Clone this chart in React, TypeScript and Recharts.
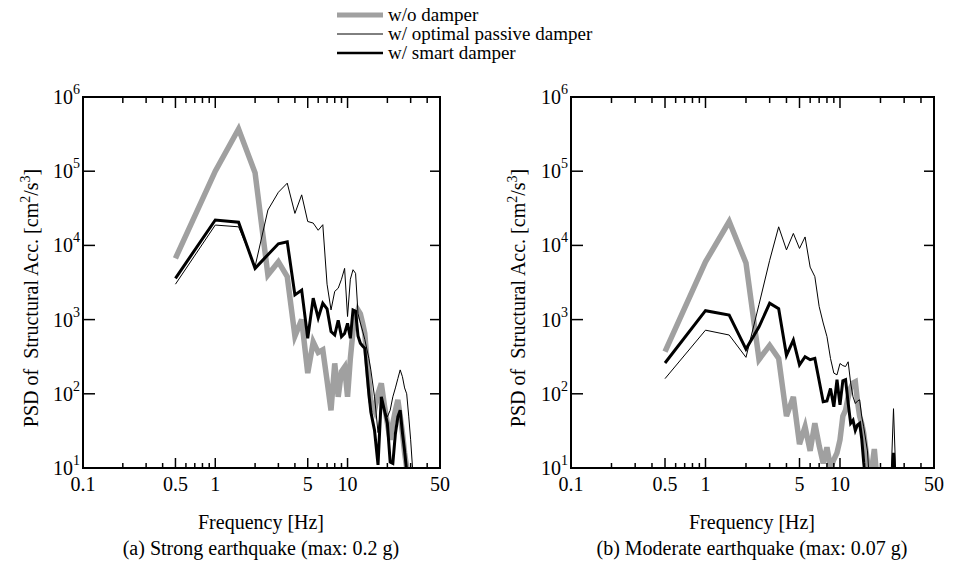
import React from 'react'
import { LineChart, Line, XAxis, YAxis, ReferenceArea } from 'recharts'

// frequency grid [Hz]
const freq = [
  0.5, 1, 1.5, 2, 2.5, 3, 3.5, 4, 4.5, 5, 5.5, 6, 6.5, 7, 7.5, 8, 8.5, 9, 9.5, 10,
  10.5, 11, 11.5, 12, 12.5, 13, 13.5, 14, 14.5, 15, 16, 17, 18, 19, 20, 21, 22, 23, 24, 25,
  26, 27, 28, 29, 30, 31, 32,
]

// (a) strong earthquake
const strongWo = [
  6700, 100000, 370000, 95000, 4000, 6000, 3800, 600, 1000, 190,
  500, 360, 390, 150, 60, 257, 91, 200, 230, 91,
  300, 700, 1000, 1350, 1200, 900, 650, 300, 150, 80,
  60, 100, 138, 70, 40, 24, 40, 60, 83, 50,
  30, 16, 10, 6, 5, null, null,
]
const strongPassive = [
  3000, 18800, 17800, 5200, 30000, 52000, 69000, 27000, 48000, 21000,
  20000, 16000, 19000, 3000, 1350, 2400, 2650, 3500, 4900, 1100,
  3500, 4700, 4200, 1200, 900, 700, 540, 400, 300, 210,
  91, 30, 74, 60, 49, 60, 91, 120, 160, 210,
  170, 120, 100, 50, 24, 10, 5,
]
const strongSmart = [
  3600, 22000, 20500, 4900, 7500, 10500, 11200, 2150, 2500, 560,
  1950, 1050, 1660, 1400, 690, 620, 980, 590, 650, 890,
  560, 1350, 1300, 600, 480, 440, 410, 200, 100, 57,
  32, 11, 91, 60, 40, 12, 11.5, 29, 49, 60,
  30, 17, 9, 5, 3, null, null,
]

// (b) moderate earthquake
const moderateWo = [
  370, 6000, 21000, 5800, 290, 450, 300, 50, 91, 21,
  36, 17, 40, 20, 11.5, 19, 10, 13, 16, 24,
  50, 60, 90, 120, 140, 145, 78, 50, 40, 30,
  12, 8, 18, 6, 3, null, null, null, null, null,
  null, null, null, null, null, null, null,
]
const moderatePassive = [
  160, 720, 620, 310, 1600, 6300, 17800, 8700, 14500, 9100,
  13000, 5100, 3800, 1500, 900, 590, 300, 190, 180, 256,
  240, 233, 270, 140, 91, 74, 80, 83, 50, 36,
  17, 3, 2, 2, 2, 2, 2, 2, 8, 63,
  8, 2, null, null, null, null, null,
]
const moderateSmart = [
  260, 1320, 1150, 400, 800, 1660, 1400, 330, 530, 245,
  316, 288, 300, 150, 78, 80, 118, 67, 155, 71,
  150, 155, 75, 40, 44, 32, 38, 40, 25, 12,
  4, 3, 3, 3, 3, 3, 3, 3, 3, 16,
  3, null, null, null, null, null, null,
]

const xTicks = [0.1, 0.2, 0.3, 0.4, 0.5, 0.6, 0.7, 0.8, 0.9, 1, 2, 3, 4, 5, 6, 7, 8, 9, 10, 20, 30, 40, 50]
const xLabels = [0.1, 0.5, 1, 5, 10, 50]
const xMajor = [0.5, 1, 5, 10]
const yTicks = [10, 100, 1000, 10000, 100000, 1000000]

const FONT = '"Liberation Serif", "DejaVu Serif", serif'

function buildRows(wo: (number | null)[], passive: (number | null)[], smart: (number | null)[]) {
  return freq.map((f, i) => ({ f, wo: wo[i], passive: passive[i], smart: smart[i] }))
}

const strongData = buildRows(strongWo, strongPassive, strongSmart)
const moderateData = buildRows(moderateWo, moderatePassive, moderateSmart)

// plot box geometry inside each LineChart
const PLOT_TOP = 97
const PLOT_BOTTOM = 468
const PLOT_LEFT = 83

// x ticks point inward on bottom and top edges
function BottomTick(props: any) {
  const { x, payload } = props
  const v = payload.value
  const edge = v === 0.1 || v === 50
  const len = xMajor.includes(v) ? 10 : 5
  return (
    <g>
      {!edge && <line x1={x} x2={x} y1={PLOT_BOTTOM} y2={PLOT_BOTTOM - len} stroke="#000" strokeWidth={1.5} />}
      {!edge && <line x1={x} x2={x} y1={PLOT_TOP} y2={PLOT_TOP + len + 1} stroke="#000" strokeWidth={1.5} />}
      {xLabels.includes(v) && (
        <text x={x} y={PLOT_BOTTOM + 23} textAnchor="middle" fontSize={20} fontFamily={FONT} fill="#000">
          {v}
        </text>
      )}
    </g>
  )
}

// y ticks on left and right edges, labels as 10^n
function LeftTick(props: any, plotRight: number) {
  const { y, payload } = props
  const exp = Math.round(Math.log10(payload.value))
  const edge = exp === 1 || exp === 6
  return (
    <g>
      {!edge && <line x1={PLOT_LEFT} x2={PLOT_LEFT + 12} y1={y} y2={y} stroke="#000" strokeWidth={1.5} />}
      {!edge && <line x1={plotRight} x2={plotRight - 10} y1={y} y2={y} stroke="#000" strokeWidth={1.5} />}
      <text x={PLOT_LEFT - 3} y={y + 7} textAnchor="end" fontSize={20} fontFamily={FONT} fill="#000">
        10<tspan dy={-10} fontSize={14}>{exp}</tspan>
      </text>
    </g>
  )
}

function PsdPanel({ data, left, marginRight }: { data: any[]; left: number; marginRight: number }) {
  const plotRight = 460 - marginRight
  return (
    <div style={{ position: 'absolute', left, top: 0 }}>
      <LineChart width={460} height={530} data={data} margin={{ top: PLOT_TOP, right: marginRight, bottom: 32, left: 23 }}>
        <XAxis
          dataKey="f" type="number" scale="log" domain={[0.1, 50]} allowDataOverflow
          ticks={xTicks} interval={0} tick={BottomTick} tickLine={false} tickSize={0} tickMargin={0}
          axisLine={{ stroke: '#000', strokeWidth: 2 }} height={30}
        />
        <YAxis
          type="number" scale="log" domain={[10, 1000000]} allowDataOverflow
          ticks={yTicks} interval={0} tick={(p: any) => LeftTick(p, plotRight)} tickLine={false} tickSize={0} tickMargin={0}
          axisLine={{ stroke: '#000', strokeWidth: 2 }} width={60}
        />
        <Line dataKey="wo" stroke="#a0a0a0" strokeWidth={5.5} dot={false} isAnimationActive={false} />
        <Line dataKey="passive" stroke="#000" strokeWidth={1} dot={false} isAnimationActive={false} />
        <Line dataKey="smart" stroke="#000" strokeWidth={3} dot={false} isAnimationActive={false} />
        <ReferenceArea x1={0.1} x2={50} y1={10} y2={1000000} fill="none" stroke="#000" strokeWidth={2} ifOverflow="visible" />
      </LineChart>
    </div>
  )
}

const textStyle: React.CSSProperties = {
  position: 'absolute',
  fontFamily: FONT,
  fontSize: 20,
  color: '#000',
  whiteSpace: 'nowrap',
  lineHeight: '18px',
}

function Centered({ x, y, children, rotate }: { x: number; y: number; children: React.ReactNode; rotate?: boolean }) {
  return (
    <div style={{ ...textStyle, left: x, top: y, transform: `translate(-50%, -50%)${rotate ? ' rotate(-90deg)' : ''}` }}>
      {children}
    </div>
  )
}

const legendItems = [
  { label: 'w/o damper', color: '#a0a0a0', width: 5 },
  { label: 'w/ optimal passive damper', color: '#000', width: 1 },
  { label: 'w/ smart damper', color: '#000', width: 2.5 },
]

function YTitle() {
  return (
    <span>
      PSD of&nbsp; Structural Acc. [cm<sup style={{ fontSize: 14, lineHeight: 0 }}>2</sup>/s<sup style={{ fontSize: 14, lineHeight: 0 }}>3</sup>]
    </span>
  )
}

export default function App() {
  return (
    <div style={{ position: 'absolute', left: 0, top: 0, width: 957, height: 562 }}>
      {legendItems.map((item, i) => (
        <div key={item.label} style={{ ...textStyle, fontSize: 19, left: 336, top: 6 + i * 19, height: 18, display: 'flex', alignItems: 'center' }}>
          <svg width={48} height={12}>
            <line x1={1} x2={47} y1={6} y2={6} stroke={item.color} strokeWidth={item.width} />
          </svg>
          <span style={{ marginLeft: 4 }}>{item.label}</span>
        </div>
      ))}

      <PsdPanel data={strongData} left={0} marginRight={20} />
      <PsdPanel data={moderateData} left={488} marginRight={14} />

      <Centered x={31} y={298} rotate><YTitle /></Centered>
      <Centered x={518} y={298} rotate><YTitle /></Centered>

      <Centered x={261} y={522}>Frequency [Hz]</Centered>
      <Centered x={752} y={522}>Frequency [Hz]</Centered>
      <Centered x={261} y={548}>(a) Strong earthquake (max: 0.2 g)</Centered>
      <Centered x={752} y={548}>(b) Moderate earthquake (max: 0.07 g)</Centered>
    </div>
  )
}
